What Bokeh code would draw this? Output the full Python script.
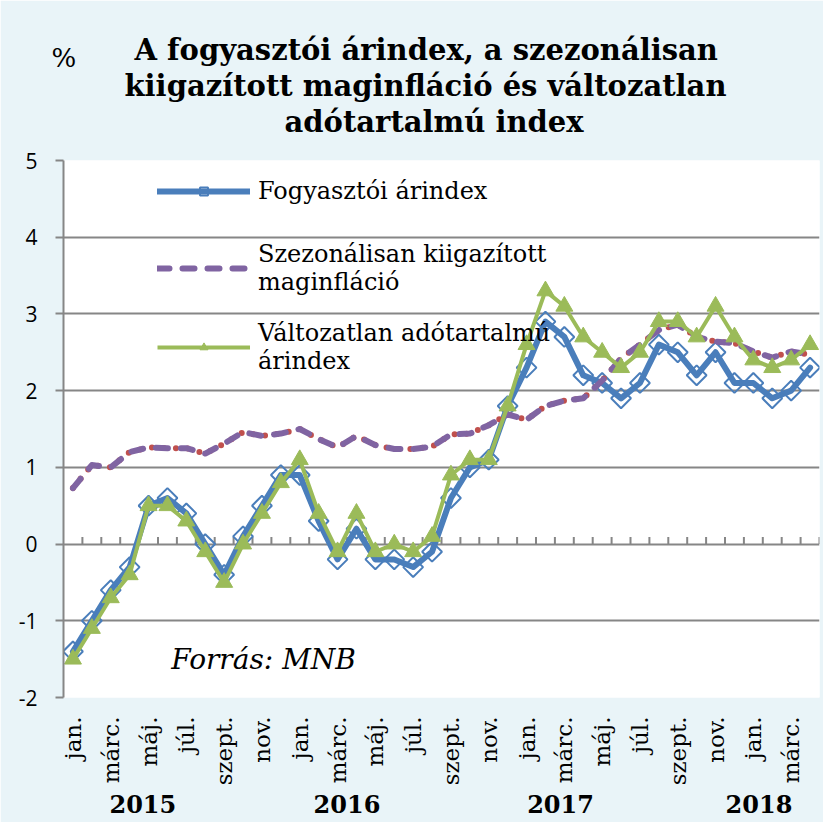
import math
from bokeh.plotting import figure
from bokeh.models import (Range1d, FixedTicker, LinearAxis, Legend, LegendItem,
                          Label, Title)
from bokeh.embed import file_html
from bokeh.resources import INLINE

# ---------------- data ----------------
month_names = ["jan.", "febr.", "márc.", "ápr.", "máj.", "jún.",
               "júl.", "aug.", "szept.", "okt.", "nov.", "dec."]
years = ["2015", "2016", "2017", "2018"]
months_per_year = [12, 12, 12, 4]

cpi = [-1.4, -1.0, -0.6, -0.3, 0.5, 0.6, 0.4, 0.0, -0.4, 0.1, 0.5, 0.9,
       0.9, 0.3, -0.2, 0.2, -0.2, -0.2, -0.3, -0.1, 0.6, 1.0, 1.1, 1.8,
       2.3, 2.9, 2.7, 2.2, 2.1, 1.9, 2.1, 2.6, 2.5, 2.2, 2.5, 2.1,
       2.1, 1.9, 2.0, 2.3]
core = [0.73, 1.03, 1.0, 1.2, 1.26, 1.25, 1.25, 1.18, 1.31, 1.46, 1.41, 1.44,
        1.5, 1.37, 1.26, 1.41, 1.29, 1.24, 1.24, 1.27, 1.43, 1.44, 1.55, 1.69,
        1.62, 1.8, 1.87, 1.9, 2.13, 2.42, 2.6, 2.79, 2.86, 2.7, 2.64, 2.62,
        2.51, 2.43, 2.51, 2.47]
const_tax = [-1.5, -1.1, -0.7, -0.4, 0.5, 0.5, 0.3, -0.1, -0.5, 0.0, 0.4, 0.8,
             1.1, 0.4, -0.1, 0.4, -0.1, 0.0, -0.1, 0.1, 0.9, 1.1, 1.1, 1.8,
             2.6, 3.3, 3.1, 2.7, 2.5, 2.3, 2.5, 2.9, 2.9, 2.7, 3.1, 2.7,
             2.4, 2.3, 2.4, 2.6]

series_names = ["Fogyasztói árindex",
                "Szezonálisan kiigazított\nmaginfláció",
                "Változatlan adótartalmú\nárindex"]
y_ticks = [-2, -1, 0, 1, 2, 3, 4, 5]
y_tick_labels = ["-2", "-1", "0", "1", "2", "3", "4", "5"]
title_lines = ["A fogyasztói árindex, a szezonálisan",
               "kiigazított maginfláció és változatlan",
               "adótartalmú index"]
unit_text = "%"
source_text = "Forrás: MNB"

# ---------------- layout constants ----------------
W, H = 823, 822
MB_LEFT, MB_RIGHT, MB_TOP, MB_BOTTOM = 63, 4, 159, 125
YEAR_LABEL_X = [4.2, 15.0, 26.3, 36.8]
TITLE_OFFSETS = [71, 61, 221]
TITLE_GAP_PX = 22
TICK_LEN_PX = 7

BLUE = "#4A7EBB"
PURPLE = "#8064A2"
RED = "#C0504D"
GREEN = "#9BBB59"
GRAY = "#868686"
SERIF = "DejaVu Serif"

# categories
periods = []
for y, cnt in zip(years, months_per_year):
    for m in range(cnt):
        periods.append((y, month_names[m]))
n = len(periods)
xs = [i + 0.5 for i in range(n)]

p = figure(width=W, height=H, x_range=Range1d(0, n), y_range=Range1d(-2, 5),
           output_backend="svg", toolbar_location=None,
           min_border_left=MB_LEFT, min_border_right=MB_RIGHT,
           min_border_top=MB_TOP, min_border_bottom=MB_BOTTOM,
           background_fill_color="white", border_fill_color="#e9f4f8",
           outline_line_color=None)
p.title.text = ""

# y axis + grid
p.yaxis.ticker = FixedTicker(ticks=y_ticks)
p.yaxis.major_label_overrides = {t: l for t, l in zip(y_ticks, y_tick_labels)}
p.yaxis.axis_line_color = GRAY
p.yaxis.axis_line_width = 2
p.yaxis.major_tick_line_color = GRAY
p.yaxis.major_tick_line_width = 2
p.yaxis.major_tick_out = 8
p.yaxis.major_tick_in = 0
p.yaxis.minor_tick_line_color = None
p.yaxis.major_label_text_font = "Open Sans"
p.yaxis.major_label_text_font_size = "21px"
p.yaxis.major_label_text_color = "black"
p.yaxis.major_label_standoff = 18
p.ygrid.ticker = FixedTicker(ticks=y_ticks)
p.ygrid.grid_line_color = GRAY
p.ygrid.grid_line_width = 2
p.xgrid.visible = False

# month axis (labels every second month)
label_ticks = [xs[i] for i in range(n) if i % 2 == 0]
p.xaxis.ticker = FixedTicker(ticks=label_ticks)
p.xaxis.major_label_overrides = {xs[i]: periods[i][1] for i in range(n) if i % 2 == 0}
p.xaxis.major_label_orientation = math.pi / 2
p.xaxis.axis_line_color = None
p.xaxis.major_tick_line_color = None
p.xaxis.minor_tick_line_color = None
p.xaxis.major_label_text_font = SERIF
p.xaxis.major_label_text_font_size = "23px"
p.xaxis.major_label_text_color = "black"
p.xaxis.major_label_standoff = 13

# year axis
year_axis = LinearAxis(ticker=FixedTicker(ticks=YEAR_LABEL_X),
                       major_label_overrides={x: y for x, y in zip(YEAR_LABEL_X, years)},
                       axis_line_color=None, major_tick_line_color=None,
                       minor_tick_line_color=None,
                       major_label_text_font=SERIF,
                       major_label_text_font_style="bold",
                       major_label_text_font_size="24px",
                       major_label_text_color="black",
                       major_label_standoff=0)
p.add_layout(year_axis, "below")

# invisible top axis used only as a gap between the plot area and the title
gap_tick = xs[0]
gap_axis = LinearAxis(ticker=FixedTicker(ticks=[gap_tick]),
                      major_label_overrides={gap_tick: ""},
                      axis_line_color=None, major_tick_line_color=None,
                      minor_tick_line_color=None,
                      major_tick_out=TITLE_GAP_PX, major_tick_in=0,
                      minor_tick_out=0, minor_tick_in=0, major_label_standoff=0,
                      major_label_text_font_size="1px")
p.add_layout(gap_axis, "above")

# category boundary ticks on the zero line
px_per_unit = (H - MB_TOP - MB_BOTTOM) / 7.0
bounds = list(range(1, n + 1))
p.segment(x0=bounds, y0=[0] * len(bounds), x1=bounds,
          y1=[TICK_LEN_PX / px_per_unit] * len(bounds),
          line_color=GRAY, line_width=2)

# series
blue_line = p.line(xs, cpi, line_color=BLUE, line_width=6, line_join="round", line_cap="round")
blue_mk = p.scatter(xs, cpi, marker="square", angle=math.pi / 4, size=14,
                    fill_color=None, line_color=BLUE, line_width=2)
red_dots = p.line(xs, core, line_color=RED, line_width=6, line_dash="0 12", line_cap="round")
purple_line = p.line(xs, core, line_color=PURPLE, line_width=6, line_dash="12 13",
                     line_cap="round", line_join="round")
green_line = p.line(xs, const_tax, line_color=GREEN, line_width=4, line_join="round")
green_mk = p.scatter(xs, const_tax, marker="triangle", size=17,
                     fill_color=GREEN, line_color=GREEN)

legend = Legend(items=[LegendItem(label=series_names[0], renderers=[blue_line, blue_mk]),
                       LegendItem(label=series_names[1], renderers=[purple_line]),
                       LegendItem(label=series_names[2], renderers=[green_line, green_mk])],
                location=(94, 322), glyph_width=93, glyph_height=20,
                label_height=53,
                label_standoff=8, spacing=23, padding=0, margin=0,
                border_line_color=None, background_fill_alpha=0,
                label_text_font=SERIF, label_text_font_size="24px",
                label_text_line_height=1.33,
                label_text_color="black")
p.add_layout(legend)

p.add_layout(Label(x=5.7, y=-1.51, text=source_text, text_font=SERIF,
                   text_font_style="italic", text_font_size="28px",
                   text_baseline="alphabetic", text_color="black"))

for line, off in reversed(list(zip(title_lines, TITLE_OFFSETS))):
    p.add_layout(Title(text=line, align="left", offset=off, text_font=SERIF,
                       text_font_style="bold", text_font_size="29px",
                       text_color="black", standoff=0), "above")

# unit label, placed in the top side panel (outermost), shifted down beside line 1
p.add_layout(Label(x=-12, y=-27, x_units="screen", y_units="screen",
                   text=unit_text, text_font=SERIF,
                   text_font_size="26px", text_baseline="alphabetic",
                   text_color="black"), "above")

open("out.html", "w").write(file_html(p, INLINE))
